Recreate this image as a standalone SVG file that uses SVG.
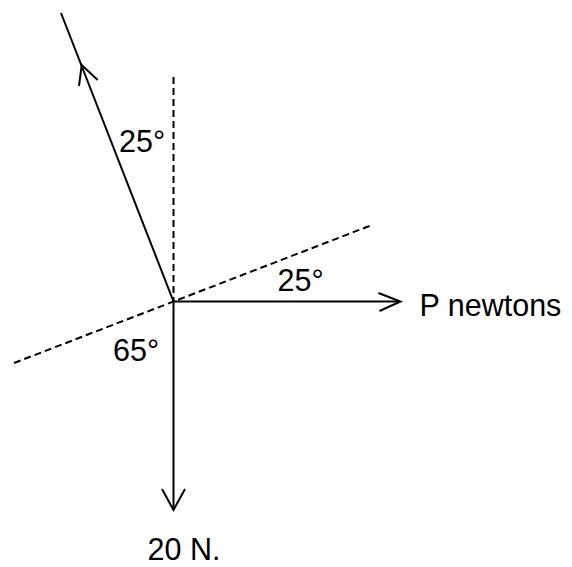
<svg xmlns="http://www.w3.org/2000/svg" width="572" height="567" viewBox="0 0 572 567">
<style>
.ln{stroke:#000;stroke-width:2;fill:none;stroke-linecap:butt}
.ds{stroke:#000;stroke-width:2;fill:none;stroke-dasharray:7 4}
.hd{stroke:#000;stroke-width:2;fill:none;stroke-linejoin:miter}
text{font-family:"Liberation Sans",Arial,sans-serif;font-size:30.5px;fill:#000}
</style>
<rect width="572" height="567" fill="#fff"/>
<g id="guides">
<line class="ds" x1="173.5" y1="77" x2="173.5" y2="301.5"/>
<line class="ds" x1="14" y1="363" x2="372" y2="225"/>
</g>
<g id="connectors">
<g id="force-up">
<line class="ln" x1="173.5" y1="301.5" x2="61" y2="13"/>
<polyline class="hd" points="79,86 81.7,65 97.7,80"/>
</g>
<g id="force-right">
<line class="ln" x1="173.5" y1="301.5" x2="400" y2="301.5"/>
<polyline class="hd" points="378.5,293 400.5,301.5 379.5,311"/>
</g>
<g id="force-down">
<line class="ln" x1="173.5" y1="301.5" x2="173.5" y2="510"/>
<polyline class="hd" points="162,489 173.5,510 185,489"/>
</g>
</g>
<g id="labels">
<text x="119" y="151.5">25°</text>
<text x="277.5" y="291">25°</text>
<text x="113" y="360.5">65°</text>
<text x="419.5" y="315.5">P newtons</text>
<text x="147.5" y="559.5">20 N.</text>
</g>
</svg>
